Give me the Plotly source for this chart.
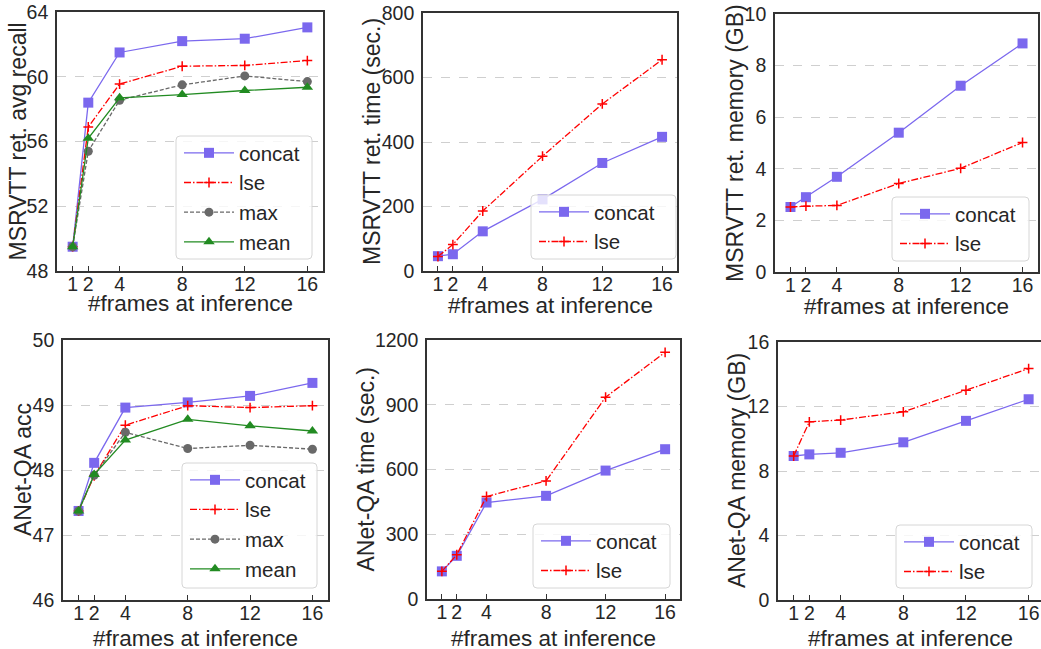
import plotly.graph_objects as go

# ---------------- data ----------------
frames = [1, 2, 4, 8, 12, 16]
frame_labels = ["1", "2", "4", "8", "12", "16"]

msrvtt_recall_concat = [49.5, 58.4, 61.5, 62.2, 62.35, 63.05]
msrvtt_recall_lse = [49.5, 56.9, 59.55, 60.65, 60.7, 61.0]
msrvtt_recall_max = [49.5, 55.4, 58.55, 59.5, 60.05, 59.7]
msrvtt_recall_mean = [49.5, 56.2, 58.7, 58.9, 59.15, 59.35]

msrvtt_time_concat = [46, 52, 123, 222, 335, 416]
msrvtt_time_lse = [45, 82, 186, 356, 518, 655]

msrvtt_mem_concat = [2.52, 2.9, 3.69, 5.4, 7.22, 8.86]
msrvtt_mem_lse = [2.52, 2.55, 2.58, 3.43, 4.02, 5.02]

anet_acc_concat = [47.37, 48.11, 48.96, 49.04, 49.14, 49.34]
anet_acc_lse = [47.37, 47.91, 48.69, 48.99, 48.96, 48.99]
anet_acc_max = [47.37, 47.92, 48.58, 48.33, 48.38, 48.32]
anet_acc_mean = [47.37, 47.93, 48.46, 48.78, 48.68, 48.60]

anet_time_concat = [128, 200, 447, 478, 595, 694]
anet_time_lse = [128, 205, 475, 547, 935, 1143]

anet_mem_concat = [8.93, 9.03, 9.13, 9.78, 11.11, 12.45]
anet_mem_lse = [8.93, 11.05, 11.16, 11.67, 13.01, 14.35]

y_titles = ["MSRVTT ret. avg recall", "MSRVTT ret. time (sec.)", "MSRVTT ret. memory (GB)",
            "ANet-QA acc", "ANet-QA time (sec.)", "ANet-QA memory (GB)"]
x_title = "#frames at inference"

y_ticks = [
    [48, 52, 56, 60, 64],
    [0, 200, 400, 600, 800],
    [0, 2, 4, 6, 8, 10],
    [46, 47, 48, 49, 50],
    [0, 300, 600, 900, 1200],
    [0, 4, 8, 12, 16],
]

panel_series = [
    {"concat": msrvtt_recall_concat, "lse": msrvtt_recall_lse, "max": msrvtt_recall_max, "mean": msrvtt_recall_mean},
    {"concat": msrvtt_time_concat, "lse": msrvtt_time_lse},
    {"concat": msrvtt_mem_concat, "lse": msrvtt_mem_lse},
    {"concat": anet_acc_concat, "lse": anet_acc_lse, "max": anet_acc_max, "mean": anet_acc_mean},
    {"concat": anet_time_concat, "lse": anet_time_lse},
    {"concat": anet_mem_concat, "lse": anet_mem_lse},
]

# ---------------- layout geometry (pixels) ----------------
W, H = 1041, 649
# plot rectangles: x0, x1, y0(top), y1(bottom)
rects = [
    (57, 323, 12, 271),
    (423, 677, 13, 271),
    (775, 1038, 14, 272),
    (63, 328, 340, 600),
    (427, 680, 340, 599),
    (778, 1041, 342, 600),
]
x_ranges = [[0, 17], [0, 17], [0, 17], [0, 17], [0, 17], [0, 16.79]]
# legend boxes: left, top, right, bottom
legend_box = [
    (176, 136, 312, 259),
    (531, 195, 676, 259),
    (892, 197, 1029, 261),
    (182, 463, 317, 588),
    (533, 524, 670, 588),
    (896, 525, 1032, 588),
]
ytitle_x = [17, 372, 735, 23, 365, 737]
xtitle_cx = [190, 550, 906, 195, 553, 910]
xtitle_cy = [304, 305, 306, 638, 638, 638]

styles = {
    "concat": dict(color="#7B68EE", dash="solid", symbol="square", size=10, lw=0),
    "lse": dict(color="#FF0000", dash="7px,2px,1.5px,2px", symbol="cross-thin", size=7, lw=1.5),
    "max": dict(color="#696969", dash="4px,2px", symbol="circle", size=9, lw=0),
    "mean": dict(color="#228B22", dash="solid", symbol="triangle-up", size=10, lw=0),
}

TEXT = "#262626"
FRAME = "#333333"
FONT = "Liberation Sans, Arial, sans-serif"


def X(px):
    return px / W


def Y(py):
    return 1 - py / H


def rounded_rect(x0, y0, x1, y1, r):
    return (f"M {X(x0 + r)},{Y(y0)} L {X(x1 - r)},{Y(y0)} Q {X(x1)},{Y(y0)} {X(x1)},{Y(y0 + r)} "
            f"L {X(x1)},{Y(y1 - r)} Q {X(x1)},{Y(y1)} {X(x1 - r)},{Y(y1)} "
            f"L {X(x0 + r)},{Y(y1)} Q {X(x0)},{Y(y1)} {X(x0)},{Y(y1 - r)} "
            f"L {X(x0)},{Y(y0 + r)} Q {X(x0)},{Y(y0)} {X(x0 + r)},{Y(y0)} Z")


fig = go.Figure()
layout = dict(
    width=W, height=H,
    margin=dict(l=0, r=0, t=0, b=0, autoexpand=False),
    paper_bgcolor="white", plot_bgcolor="white",
    font=dict(family=FONT, color=TEXT),
    annotations=[], shapes=[],
)

for i in range(6):
    n = "" if i == 0 else str(i + 1)
    x0, x1, y0, y1 = rects[i]
    leg = "legend" if i == 0 else f"legend{i + 1}"
    for name, vals in panel_series[i].items():
        st = styles[name]
        marker = dict(symbol=st["symbol"], size=st["size"], color=st["color"])
        if st["lw"]:
            marker["line"] = dict(width=st["lw"], color=st["color"])
        else:
            marker["line"] = dict(width=0)
        fig.add_trace(go.Scatter(
            x=frames, y=vals, name=name, mode="lines+markers",
            line=dict(color=st["color"], width=1.3, dash=st["dash"]),
            marker=marker,
            xaxis="x" + n, yaxis="y" + n,
            legend=leg, legendgroup=f"p{i}_{name}",
        ))
    layout["xaxis" + n] = dict(
        domain=[X(x0), min(X(x1), 1.0)], anchor="y" + n,
        range=x_ranges[i], tickvals=frames, ticktext=frame_labels,
        showgrid=False, zeroline=False,
        showline=True, linecolor=FRAME, linewidth=1.6, mirror=True,
        ticks="inside", ticklen=5, tickwidth=1.2, tickcolor=FRAME,
        tickfont=dict(size=19.5, color=TEXT, family=FONT),
        ticklabelstandoff=-5,
        fixedrange=True,
    )
    yt = y_ticks[i]
    layout["yaxis" + n] = dict(
        domain=[Y(y1), Y(y0)], anchor="x" + n,
        range=[yt[0], yt[-1]], tickvals=yt,
        showgrid=True, gridcolor="#cfcfcf", gridwidth=1, griddash="dash",
        zeroline=False,
        showline=True, linecolor=FRAME, linewidth=1.6, mirror=(i != 5),
        ticks="", ticklabelstandoff=3,
        tickfont=dict(size=19.5, color=TEXT, family=FONT),
        fixedrange=True,
    )
    lx0, ly0, lx1, ly1 = legend_box[i]
    layout["shapes"].append(dict(
        type="path", xref="paper", yref="paper", layer="above",
        path=rounded_rect(lx0, ly0, lx1, ly1, 4),
        fillcolor="rgba(255,255,255,0.8)", line=dict(color="#d6d6d6", width=1),
    ))
    layout[leg] = dict(
        x=X(lx0 + 3), y=Y(ly0 - 3), xanchor="left", yanchor="top",
        bgcolor="rgba(0,0,0,0)", borderwidth=0,
        font=dict(size=20.5, color=TEXT, family=FONT),
        itemwidth=50, tracegroupgap=0,
    )
    layout["annotations"].append(dict(
        text=y_titles[i], textangle=-90, showarrow=False,
        xref="paper", yref="paper", x=X(ytitle_x[i]), y=Y((y0 + y1) / 2),
        xanchor="center", yanchor="middle",
        font=dict(size=23, color=TEXT, family=FONT),
    ))
    layout["annotations"].append(dict(
        text=x_title, showarrow=False,
        xref="paper", yref="paper", x=X(xtitle_cx[i]), y=Y(xtitle_cy[i]),
        xanchor="center", yanchor="middle",
        font=dict(size=22.5, color=TEXT, family=FONT),
    ))

fig.update_layout(**layout)
fig.write_html("out.html", config={"displayModeBar": False},
               post_script="document.body.style.margin='0px';")
